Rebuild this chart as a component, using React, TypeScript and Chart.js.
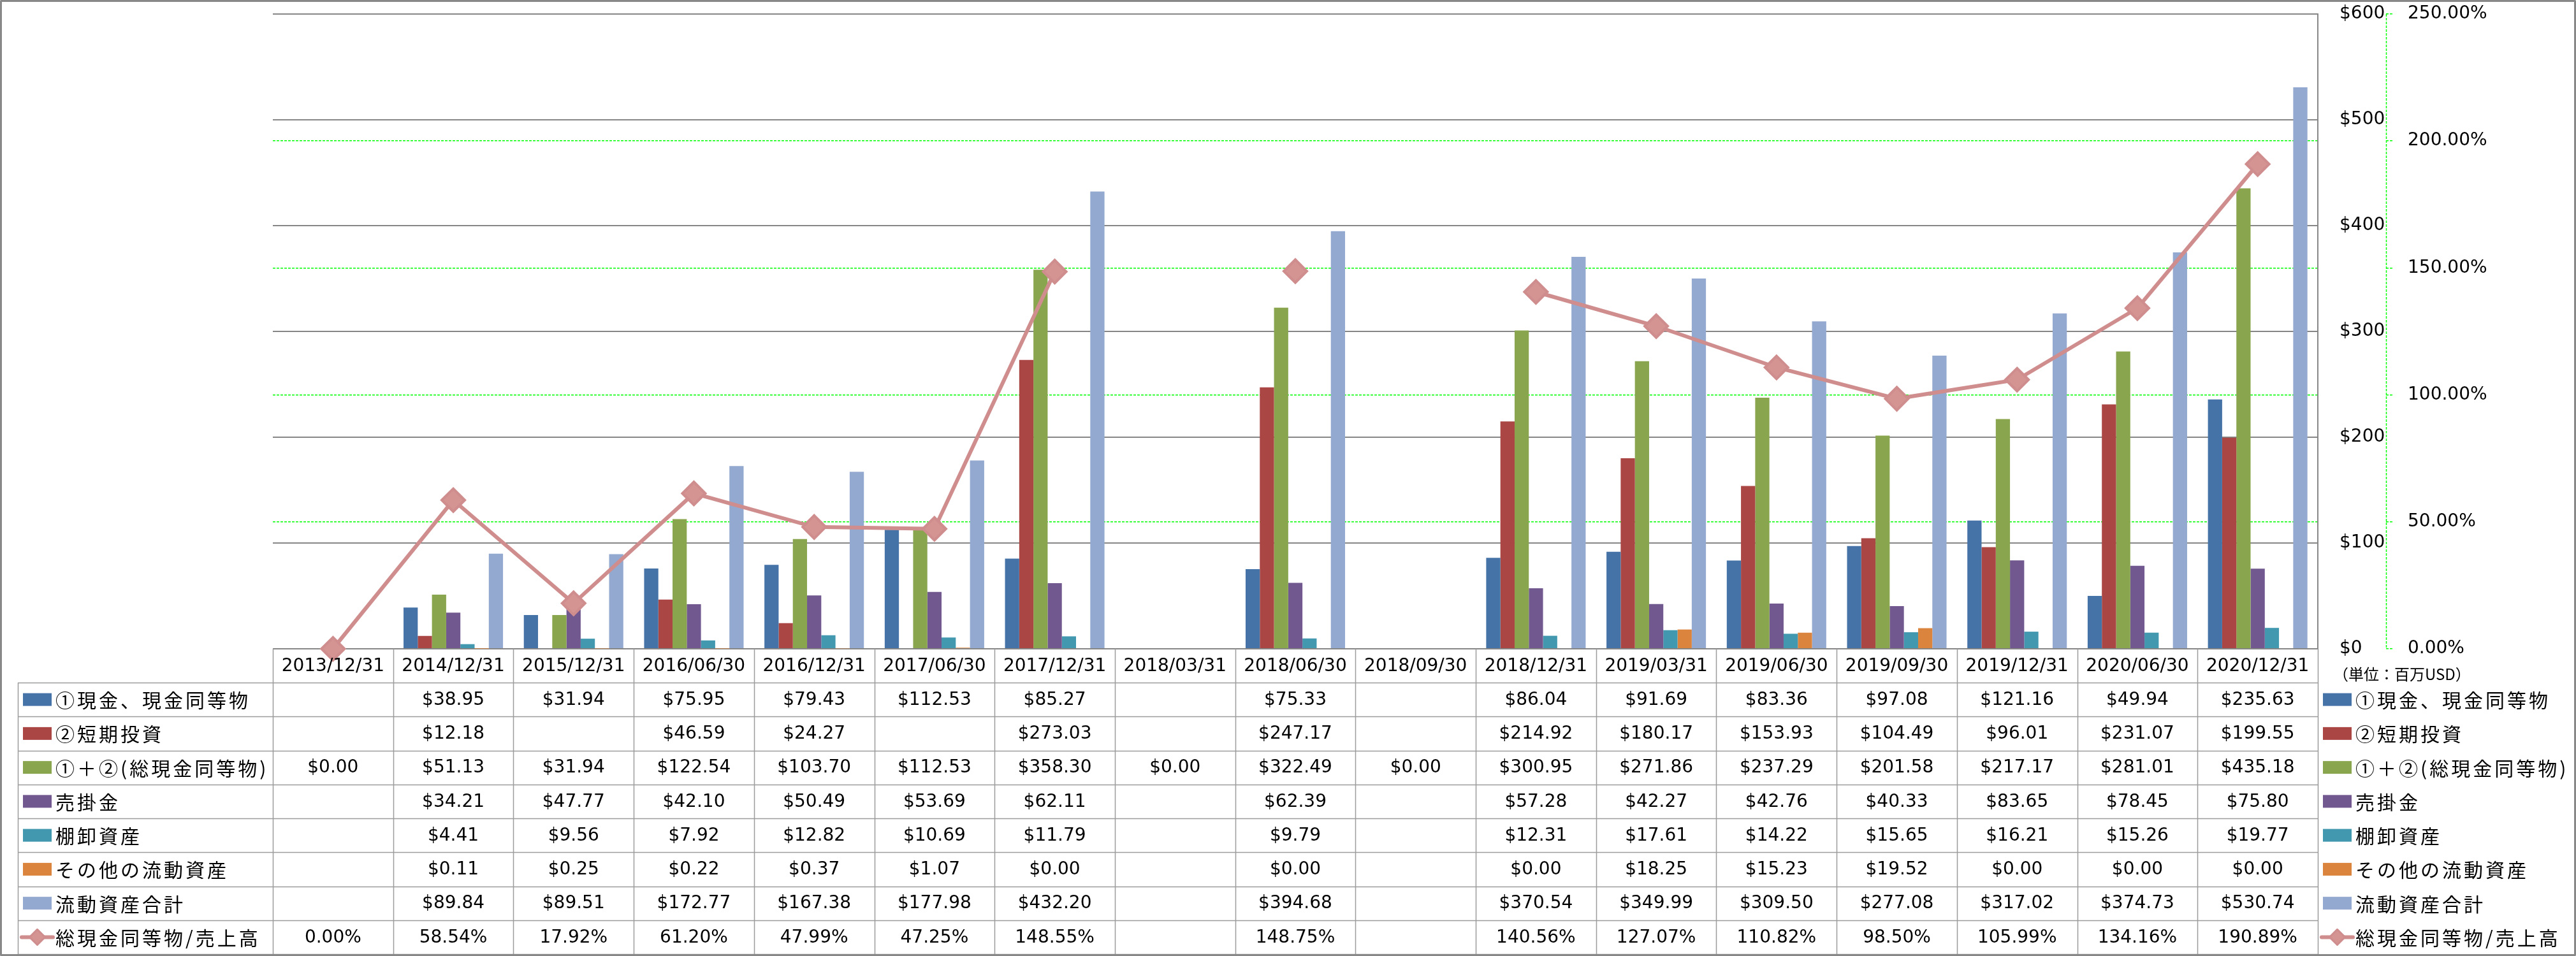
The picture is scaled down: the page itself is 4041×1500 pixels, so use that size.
import React, { useEffect, useRef } from "react";
import { Chart, registerables } from "chart.js";

Chart.register(...registerables);

const categories = [
  "2013/12/31", "2014/12/31", "2015/12/31", "2016/06/30", "2016/12/31", "2017/06/30",
  "2017/12/31", "2018/03/31", "2018/06/30", "2018/09/30", "2018/12/31", "2019/03/31",
  "2019/06/30", "2019/09/30", "2019/12/31", "2020/06/30", "2020/12/31",
];

const cash = [null, 38.95, 31.94, 75.95, 79.43, 112.53, 85.27, null, 75.33, null, 86.04, 91.69, 83.36, 97.08, 121.16, 49.94, 235.63];
const shortInvest = [null, 12.18, null, 46.59, 24.27, null, 273.03, null, 247.17, null, 214.92, 180.17, 153.93, 104.49, 96.01, 231.07, 199.55];
const totalCash = [0, 51.13, 31.94, 122.54, 103.7, 112.53, 358.3, 0, 322.49, 0, 300.95, 271.86, 237.29, 201.58, 217.17, 281.01, 435.18];
const receivables = [null, 34.21, 47.77, 42.1, 50.49, 53.69, 62.11, null, 62.39, null, 57.28, 42.27, 42.76, 40.33, 83.65, 78.45, 75.8];
const inventory = [null, 4.41, 9.56, 7.92, 12.82, 10.69, 11.79, null, 9.79, null, 12.31, 17.61, 14.22, 15.65, 16.21, 15.26, 19.77];
const otherCurrent = [null, 0.11, 0.25, 0.22, 0.37, 1.07, 0.0, null, 0.0, null, 0.0, 18.25, 15.23, 19.52, 0.0, 0.0, 0.0];
const currentTotal = [null, 89.84, 89.51, 172.77, 167.38, 177.98, 432.2, null, 394.68, null, 370.54, 349.99, 309.5, 277.08, 317.02, 374.73, 530.74];
const cashToSales = [0.0, 58.54, 17.92, 61.2, 47.99, 47.25, 148.55, null, 148.75, null, 140.56, 127.07, 110.82, 98.5, 105.99, 134.16, 190.89];

const seriesNames = [
  "①現金、現金同等物",
  "②短期投資",
  "①＋②(総現金同等物)",
  "売掛金",
  "棚卸資産",
  "その他の流動資産",
  "流動資産合計",
  "総現金同等物/売上高",
];
const unitLabel = "（単位：百万USD）";

const barColors = ["#4572A7", "#AA4643", "#89A54E", "#71588F", "#4198AF", "#DB843D", "#93A9CF"];
const LINE_COLOR = "#CF8D8D";
const POINT_FILL = "#D39492";
const GRID_GREY = "#868686";
const TABLE_LINE = "#9c9c9c";
const GREEN = "#00FF00";

const barSeries = [cash, shortInvest, totalCash, receivables, inventory, otherCurrent, currentTotal];

const NUM_FONT = '28px "DejaVu Sans", "Noto Sans CJK JP", sans-serif';
const JP_FONT = '30px "Noto Sans CJK JP", sans-serif';

function drawDiamond(ctx: CanvasRenderingContext2D, cx: number, cy: number, h: number) {
  ctx.beginPath();
  ctx.moveTo(cx, cy - h);
  ctx.lineTo(cx + h, cy);
  ctx.lineTo(cx, cy + h);
  ctx.lineTo(cx - h, cy);
  ctx.closePath();
  ctx.fillStyle = POINT_FILL;
  ctx.fill();
  ctx.lineWidth = 3;
  ctx.strokeStyle = LINE_COLOR;
  ctx.lineJoin = "round";
  ctx.stroke();
}

function drawKey(ctx: CanvasRenderingContext2D, idx: number, x: number, cy: number) {
  if (idx < 7) {
    ctx.fillStyle = barColors[idx];
    ctx.fillRect(x, cy - 10, 45, 20);
  } else {
    ctx.beginPath();
    ctx.moveTo(x - 2, cy);
    ctx.lineTo(x + 47, cy);
    ctx.lineWidth = 6;
    ctx.lineCap = "round";
    ctx.strokeStyle = LINE_COLOR;
    ctx.stroke();
    ctx.lineCap = "butt";
    drawDiamond(ctx, x + 22.5, cy, 12);
  }
}

const tablePlugin = {
  id: "dataTable",
  afterDraw(chart: any) {
    const ctx: CanvasRenderingContext2D = chart.ctx;
    const xs = chart.scales.x;
    const y1 = chart.scales.y1;
    const area = chart.chartArea;
    const n = categories.length;
    const cw = (area.right - area.left) / n;
    const top = area.bottom;
    const headH = 53;
    const rowTop = top + headH;
    const bottom = 1497;
    const rows = seriesNames.length;
    const rh = (bottom - rowTop) / rows;
    const tableLeft = 28;

    ctx.save();

    // secondary axis dashed line
    ctx.beginPath();
    ctx.setLineDash([4, 2]);
    ctx.strokeStyle = GREEN;
    ctx.lineWidth = 1.5;
    ctx.moveTo(y1.left + 0.5, area.top);
    ctx.lineTo(y1.left + 0.5, area.bottom);
    ctx.stroke();
    ctx.setLineDash([]);

    // table lines
    ctx.strokeStyle = TABLE_LINE;
    ctx.lineWidth = 1.5;
    ctx.beginPath();
    for (let i = 0; i <= n; i++) {
      const px = i < n ? xs.getPixelForValue(i) - cw / 2 : xs.getPixelForValue(n - 1) + cw / 2;
      ctx.moveTo(Math.round(px) + 0.5, top);
      ctx.lineTo(Math.round(px) + 0.5, bottom);
    }
    ctx.moveTo(tableLeft + 0.5, rowTop);
    ctx.lineTo(tableLeft + 0.5, bottom);
    for (let r = 0; r <= rows; r++) {
      const yy = Math.round(rowTop + r * rh) + 0.5;
      ctx.moveTo(tableLeft, yy);
      ctx.lineTo(area.right, yy);
    }
    ctx.stroke();

    // header labels
    ctx.fillStyle = "#000";
    ctx.font = NUM_FONT;
    ctx.textAlign = "center";
    ctx.textBaseline = "middle";
    for (let i = 0; i < n; i++) {
      ctx.fillText(categories[i], xs.getPixelForValue(i), top + headH / 2 + 1);
    }

    const allRows = [...barSeries, cashToSales];
    for (let r = 0; r < rows; r++) {
      const cy = rowTop + r * rh + rh / 2;
      drawKey(ctx, r, 36, cy);
      ctx.fillStyle = "#000";
      ctx.font = JP_FONT;
      (ctx as any).letterSpacing = "4px";
      ctx.textAlign = "left";
      ctx.fillText(seriesNames[r], 87, cy + 1);
      drawKey(ctx, r, 3644, cy);
      ctx.fillStyle = "#000";
      ctx.fillText(seriesNames[r], 3695, cy + 1);
      (ctx as any).letterSpacing = "0px";
      ctx.font = NUM_FONT;
      ctx.textAlign = "center";
      const vals = allRows[r];
      for (let i = 0; i < n; i++) {
        const v = vals[i];
        if (v === null || v === undefined) continue;
        const s = r === 7 ? v.toFixed(2) + "%" : "$" + v.toFixed(2);
        ctx.fillText(s, xs.getPixelForValue(i), cy + 1);
      }
    }

    ctx.font = '24px "Noto Sans CJK JP", sans-serif';
    ctx.textAlign = "left";
    ctx.fillStyle = "#000";
    ctx.fillText(unitLabel, 3660, 1058);

    ctx.strokeStyle = "#888888";
    ctx.lineWidth = 3;
    ctx.strokeRect(1.5, 1.5, chart.width - 3, chart.height - 3);

    ctx.restore();
  },
};

export default function App() {
  const ref = useRef<HTMLCanvasElement | null>(null);

  useEffect(() => {
    if (!ref.current) return;
    const datasets: any[] = barSeries.map((d, i) => ({
      type: "bar",
      label: seriesNames[i],
      data: d,
      backgroundColor: barColors[i],
      borderWidth: 0,
      yAxisID: "y",
      order: 2,
      categoryPercentage: 0.827,
      barPercentage: 1.0,
    }));
    datasets.push({
      type: "line",
      label: seriesNames[7],
      data: cashToSales,
      yAxisID: "y1",
      borderColor: LINE_COLOR,
      borderWidth: 6,
      pointStyle: "rectRot",
      pointRadius: 18,
      pointBorderWidth: 4,
      pointBackgroundColor: POINT_FILL,
      pointBorderColor: LINE_COLOR,
      spanGaps: false,
      order: 0,
      clip: false,
    });

    const chart = new Chart(ref.current, {
      type: "bar",
      data: { labels: categories, datasets },
      options: {
        responsive: false,
        animation: false,
        layout: { padding: { left: 428, top: 21, right: 98, bottom: 482 } },
        plugins: { legend: { display: false }, tooltip: { enabled: false } },
        scales: {
          x: { display: false, offset: true, grid: { display: false }, border: { display: false } },
          y: {
            position: "right",
            min: 0,
            max: 600,
            ticks: {
              stepSize: 100,
              padding: 34,
              color: "#000",
              font: { family: '"DejaVu Sans", sans-serif', size: 28 },
              callback: (v: any) => "$" + v,
            },
            grid: { color: GRID_GREY, lineWidth: 2, drawTicks: false },
            border: { display: true, color: GRID_GREY, width: 2 },
            afterFit: (s: any) => {
              s.width = 107;
              s.paddingTop = 0;
              s.paddingBottom = 0;
            },
          },
          y1: {
            position: "right",
            min: 0,
            max: 250,
            ticks: {
              stepSize: 50,
              padding: 22,
              color: "#000",
              font: { family: '"DejaVu Sans", sans-serif', size: 28 },
              callback: (v: any) => Number(v).toFixed(2) + "%",
            },
            grid: {
              color: (c: any) => (c.tick && (c.tick.value === 0 || c.tick.value === 250) ? "rgba(0,0,0,0)" : GREEN),
              lineWidth: 1.5,
              drawTicks: true,
              tickLength: 12,
              tickColor: GREEN,
              tickWidth: 1.5,
              tickBorderDash: [4, 2],
            },
            border: { display: false, dash: [4, 2] },
            afterFit: (s: any) => {
              s.width = 200;
              s.paddingTop = 0;
              s.paddingBottom = 0;
            },
          },
        },
      } as any,
      plugins: [tablePlugin],
    });
    return () => chart.destroy();
  }, []);

  return (
    <div style={{ position: "absolute", left: 0, top: 0, width: 4041, height: 1500, background: "#fff" }}>
      <canvas ref={ref} width={4041} height={1500} style={{ display: "block" }} />
    </div>
  );
}
